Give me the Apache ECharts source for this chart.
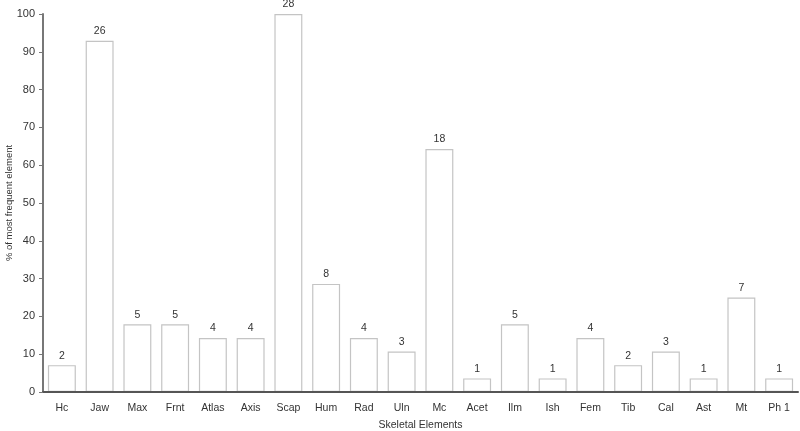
<!DOCTYPE html>
<html><head><meta charset="utf-8">
<script src="https://cdn.jsdelivr.net/npm/echarts@6/dist/echarts.min.js"></script>
<style>html,body{margin:0;padding:0;background:#fff}#c{width:800px;height:431px}</style>
</head><body><div id="c"></div>
<script>
const categories = ["Hc","Jaw","Max","Frnt","Atlas","Axis","Scap","Hum","Rad","Uln","Mc","Acet","Ilm","Ish","Fem","Tib","Cal","Ast","Mt","Ph 1"];
const percentValues = [7.1,92.9,17.9,17.9,14.3,14.3,100,28.6,14.3,10.7,64.3,3.6,17.9,3.6,14.3,7.1,10.7,3.6,25,3.6];
const countLabels = [2,26,5,5,4,4,28,8,4,3,18,1,5,1,4,2,3,1,7,1];
const yTicks = [0,10,20,30,40,50,60,70,80,90,100];

const chart = echarts.init(document.getElementById('c'));
chart.setOption({
  animation:false,
  textStyle:{fontFamily:'Liberation Sans, Arial, sans-serif'},
  grid:{left:43,right:2,top:14,bottom:39,containLabel:false,outerBoundsMode:'none'},
  xAxis:{type:'category',data:categories,z:5,
    name:'Skeletal Elements',nameLocation:'middle',nameGap:28,nameMoveOverlap:false,
    nameTextStyle:{fontSize:10.5,color:'#333'},
    axisLine:{lineStyle:{color:'#555',width:2}},
    axisTick:{show:false},
    axisLabel:{fontSize:10.5,color:'#333',margin:11}},
  yAxis:{type:'value',min:0,max:100,interval:10,z:5,
    name:'% of most frequent element',nameLocation:'middle',nameGap:29,nameRotate:90,nameMoveOverlap:false,
    nameTextStyle:{fontSize:9.5,color:'#333'},
    axisLine:{show:true,lineStyle:{color:'#777',width:2}},
    axisTick:{show:true,length:4,lineStyle:{color:'#777'}},
    splitLine:{show:false},
    axisLabel:{fontSize:11,color:'#333',margin:8,
      formatter:v=>yTicks.includes(v)?String(v):''}},
  series:[{type:'bar',data:percentValues,barWidth:'74%',
    itemStyle:{color:'#fff',borderColor:'#c4c4c4',borderWidth:1.2},
    label:{show:true,position:'top',distance:4,fontSize:10.5,color:'#333',
      formatter:p=>String(countLabels[p.dataIndex])}}]
});
</script></body></html>
